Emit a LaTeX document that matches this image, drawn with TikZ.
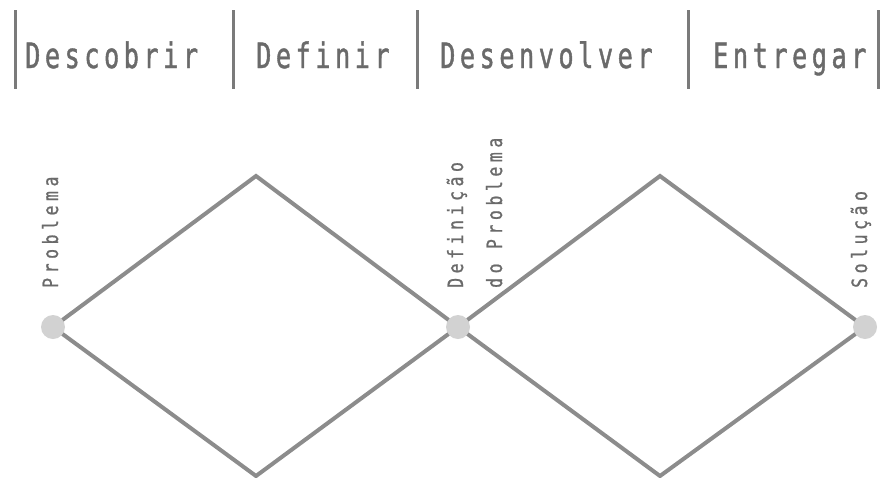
\documentclass[tikz,border=0pt]{standalone}
\usepackage{fontspec}
\newfontfamily\hdrfont[FakeStretch=0.72,LetterSpace=13,FakeBold=1.2]{DejaVu Sans Mono}
\newfontfamily\lblfont[FakeStretch=0.78,LetterSpace=22,FakeBold=0.9]{DejaVu Sans Mono}
\definecolor{txtgray}{HTML}{6A6A6A}
\definecolor{bargray}{HTML}{7A7A7A}
\definecolor{linegray}{HTML}{8C8C8C}
\definecolor{dotgray}{HTML}{D2D2D2}
\tikzset{
  hdr/.style={anchor=base west,inner sep=0pt,text=txtgray,font=\hdrfont\fontsize{35pt}{36pt}\selectfont},
  lbl/.style={anchor=base west,inner sep=0pt,rotate=90,text=txtgray,align=left,font=\lblfont\fontsize{21pt}{22pt}\selectfont},
  bar/.style={draw=bargray,line width=3pt},
  edge/.style={draw=linegray,line width=4pt},
  dot/.style={circle,fill=dotgray,minimum size=24pt,inner sep=0pt}
}
\begin{document}
\begin{tikzpicture}[x=1pt,y=-1pt]
\useasboundingbox (0,0) rectangle (881,477);
% header bars
\foreach \i/\x in {1/15,2/233,3/417,4/688,5/878}{
  \coordinate (bt\i) at (\x,10);
  \coordinate (bb\i) at (\x,89);
  \draw[bar] (bt\i) -- (bb\i);
}
% header texts
\node[hdr] (h1) at (25,68) {Descobrir};
\node[hdr] (h2) at (256,68) {Definir};
\node[hdr] (h3) at (440,68) {Desenvolver};
\node[hdr] (h4) at (713,68) {Entregar};
% diamond points
\coordinate (c1) at (53,327);
\coordinate (c2) at (458,327);
\coordinate (c3) at (865,327);
\coordinate (t1) at (256,176);
\coordinate (b1) at (256,476);
\coordinate (t2) at (660,176);
\coordinate (b2) at (660,476);
\draw[edge] (c1) -- (t1) -- (c2) -- (b1) -- cycle;
\draw[edge] (c2) -- (t2) -- (c3) -- (b2) -- cycle;
\node[dot] (p1) at (c1) {};
\node[dot] (p2) at (c2) {};
\node[dot] (p3) at (c3) {};
% labels
\node[lbl] (l1) at (58,288) {Problema};
\node[lbl] (l2) at (463,288) {Definição};
\node[lbl] (l3) at (502,288) {do Problema};
\node[lbl] (l4) at (867,288) {Solução};
\end{tikzpicture}
\end{document}
